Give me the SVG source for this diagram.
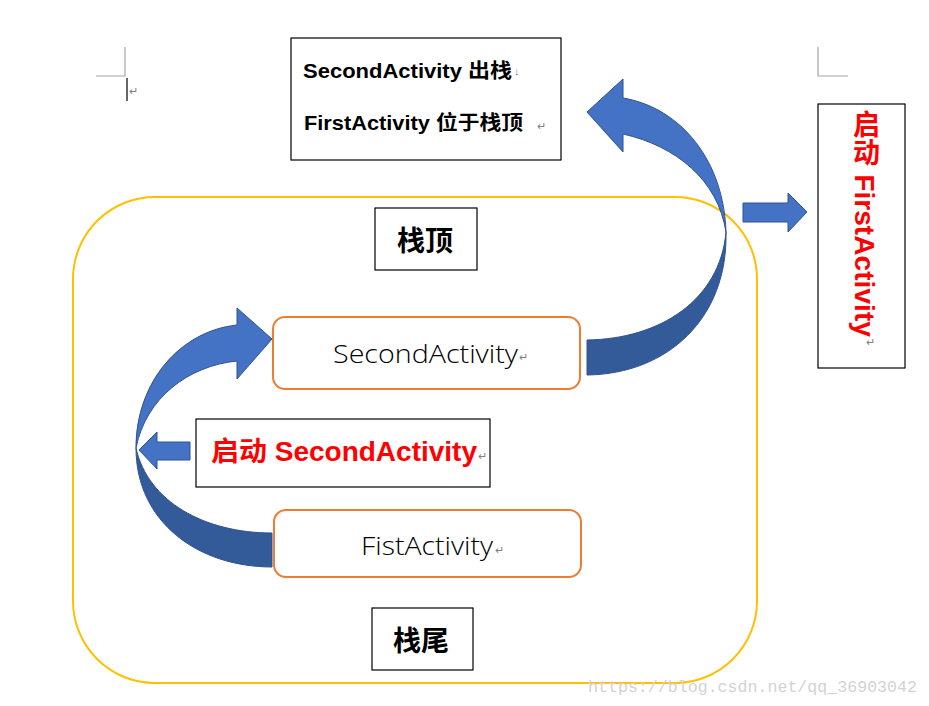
<svg xmlns="http://www.w3.org/2000/svg" width="929" height="706" viewBox="0 0 929 706">
<style>
.box{fill:#fff;stroke:#000;stroke-width:1.2}
.rbox{fill:#fff;stroke:#ED7D31;stroke-width:2}
.light{fill:#4472C4;stroke:#2F528F;stroke-width:1}
.dark{fill:#335A99;stroke:#2F528F;stroke-width:1}
.mark{stroke:#A6A6A6;stroke-width:1.2;fill:none}
.ret{font-family:"Liberation Sans","Noto Sans CJK SC",sans-serif;font-size:11px;fill:#808080}
.bk{font-family:"Liberation Sans","Noto Sans CJK SC",sans-serif;font-weight:bold;font-size:20px;fill:#000}
.cn{font-family:"Noto Sans CJK SC",sans-serif;font-weight:bold;font-size:28px;fill:#000;text-anchor:middle}
.red{font-family:"Liberation Sans","Noto Sans CJK SC",sans-serif;font-weight:bold;font-size:27px;fill:#FF0000}
.act{font-family:"Open Sans","Noto Sans CJK SC",sans-serif;font-weight:300;font-size:26px;fill:#000}
</style>
<rect width="929" height="706" fill="#fff"/>
<g id="marks">
<path class="mark" d="M125,47 V76 H96"/>
<path class="mark" d="M818,47 V76 H848"/>
<line x1="127" y1="78" x2="127" y2="101" stroke="#000" stroke-width="1.2"/>
<text class="ret" x="129" y="95">↵</text>
</g>
<g id="stack">
<rect x="73" y="197" width="684" height="486" rx="82" ry="82" fill="none" stroke="#FFC000" stroke-width="2"/>
</g>
<g id="top-note">
<rect class="box" x="291" y="38" width="270" height="122"/>
<text class="bk" x="303" y="78" textLength="209" lengthAdjust="spacingAndGlyphs">SecondActivity 出栈</text>
<text class="ret" x="514" y="75">↓</text>
<text class="bk" x="304" y="130" textLength="219" lengthAdjust="spacingAndGlyphs">FirstActivity 位于栈顶</text>
<text class="ret" x="537" y="130">↵</text>
</g>
<g id="start-first">
<rect class="box" x="818" y="104" width="87" height="264"/>
<text class="red" x="864" y="110" style="writing-mode:vertical-rl" textLength="227" lengthAdjust="spacingAndGlyphs">启动 FirstActivity</text>
<text class="ret" x="866" y="346">↵</text>
</g>
<g id="stack-top">
<rect class="box" x="375" y="208" width="102" height="62"/>
<text class="cn" x="425" y="251">栈顶</text>
</g>
<g id="second-activity">
<rect class="rbox" x="273" y="317" width="307" height="72" rx="12" ry="12"/>
<text class="act" x="333" y="363" textLength="185" lengthAdjust="spacingAndGlyphs">SecondActivity</text>
<text class="ret" x="519" y="361">↵</text>
</g>
<g id="start-second">
<rect class="box" x="196" y="419" width="294" height="68"/>
<text class="red" x="211" y="461" textLength="266" lengthAdjust="spacingAndGlyphs">启动 SecondActivity</text>
<text class="ret" x="478" y="460">↵</text>
</g>
<g id="first-activity">
<rect class="rbox" x="274" y="510" width="307" height="67" rx="12" ry="12"/>
<text class="act" x="361" y="555" textLength="132" lengthAdjust="spacingAndGlyphs">FistActivity</text>
<text class="ret" x="495" y="554">↵</text>
</g>
<g id="stack-bottom">
<rect class="box" x="372" y="608" width="101" height="62"/>
<text class="cn" x="421" y="651">栈尾</text>
</g>
<g id="connectors">
<path class="dark" d="M136,448 C136,522 198,567 272,567 L272,533 C205,533 148,502 136,448 Z"/>
<path class="light" d="M136,448 C136,382 180,331 237,325 L237,308 L272,339 L237,379 L237,361 C188,366 146,398 136,448 Z"/>
<path class="dark" d="M726,232 C728,318 668,374 587,375 L587,340 C660,339 720,300 726,232 Z"/>
<path class="light" d="M726,232 C724,162 682,108 623,98 L623,79 L587,112 L623,152 L623,134 C676,146 718,180 726,232 Z"/>
<path class="light" d="M190,442 H157 V432 L139,450 L157,469 V460 H190 Z"/>
<path class="light" d="M743,203 H788 V193 L807,212 L788,232 V222 H743 Z"/>
</g>
<text x="588" y="692" font-family="Liberation Mono,monospace" font-size="17" fill="#D3D3D3" textLength="329" lengthAdjust="spacingAndGlyphs">https://blog.csdn.net/qq_36903042</text>
</svg>
